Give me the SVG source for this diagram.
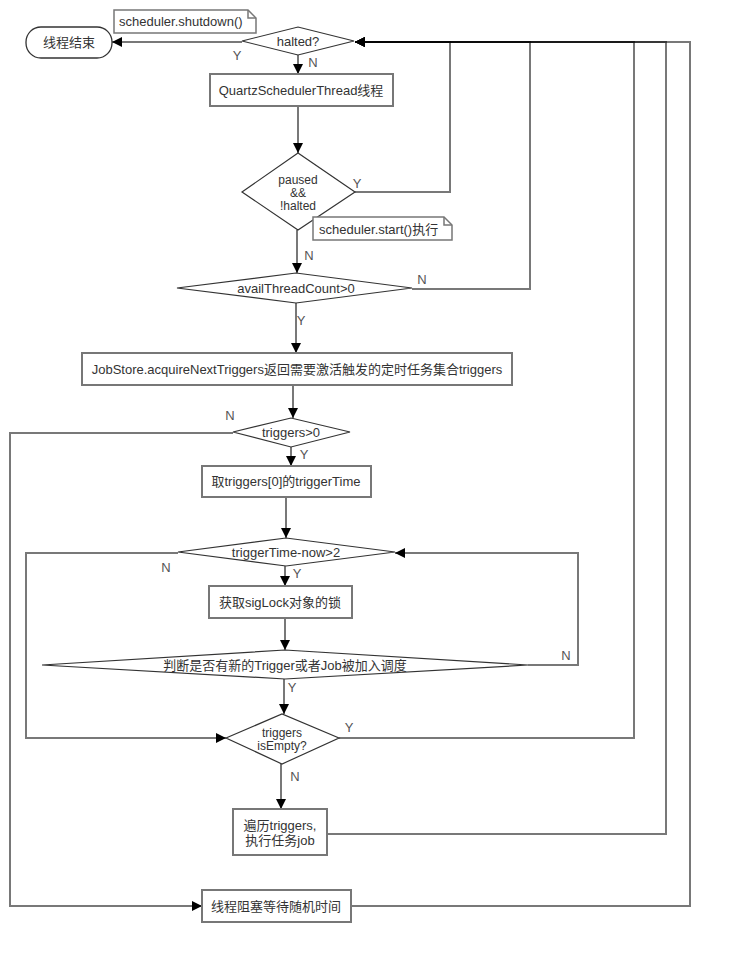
<svg xmlns="http://www.w3.org/2000/svg" width="731" height="962" viewBox="0 0 731 962">
<style>
text{font-family:"Liberation Sans","Noto Sans CJK SC",sans-serif;font-size:13px;fill:#333;text-anchor:middle}
.lbl{fill:#555}
.ml{font-size:12px}
.box{fill:#fff;stroke:#777;stroke-width:2}
.dia{fill:#fff;stroke:#333;stroke-width:1.2}
.term{fill:#fff;stroke:#333;stroke-width:1.3}
.note{fill:#fff;stroke:#777;stroke-width:1.5}
.fold{fill:none;stroke:#777;stroke-width:1.5}
.c{fill:none;stroke:#000;stroke-opacity:0.53;stroke-width:2;marker-end:url(#arr)}
.nt{text-anchor:start}
</style>
<defs>
<marker id="arr" viewBox="0 0 10 10" refX="10" refY="5" markerWidth="10" markerHeight="10" markerUnits="userSpaceOnUse" orient="auto"><path d="M0,0 L10,5 L0,10 Z" fill="#000"/></marker>
</defs>
<g id="connectors">
<path class="c" d="M242,42 L112,42"/>
<path class="c" d="M298,55 L298,74"/>
<path class="c" d="M298,106 L298,153"/>
<path class="c" d="M355,192 L450,192 L450,42 L355,42"/>
<path class="c" d="M297,230 L297,273"/>
<path class="c" d="M412,289 L530,289 L530,42 L355,42"/>
<path class="c" d="M296,303 L296,353"/>
<path class="c" d="M293,385 L293,418"/>
<path class="c" d="M233,433 L10,433 L10,906 L202,906"/>
<path class="c" d="M291,447 L291,466"/>
<path class="c" d="M286,497 L286,538"/>
<path class="c" d="M178,553 L26,553 L26,738 L226,738"/>
<path class="c" d="M285,566 L285,586"/>
<path class="c" d="M285,618 L285,650"/>
<path class="c" d="M528,665 L578,665 L578,553 L395,553"/>
<path class="c" d="M284,679 L284,714"/>
<path class="c" d="M339,738 L634,738 L634,42 L355,42"/>
<path class="c" d="M281,764 L281,809"/>
<path class="c" d="M327,834 L666,834 L666,42 L355,42"/>
<path class="c" d="M351,906 L690,906 L690,42 L355,42"/>
</g>
<g id="labels">
<text class="lbl" x="237" y="60">Y</text>
<text class="lbl" x="313" y="67">N</text>
<text class="lbl" x="357" y="188">Y</text>
<text class="lbl" x="309" y="260">N</text>
<text class="lbl" x="422" y="284">N</text>
<text class="lbl" x="301" y="325">Y</text>
<text class="lbl" x="230" y="420">N</text>
<text class="lbl" x="304" y="459">Y</text>
<text class="lbl" x="166" y="572">N</text>
<text class="lbl" x="297" y="578">Y</text>
<text class="lbl" x="566" y="660">N</text>
<text class="lbl" x="292" y="692">Y</text>
<text class="lbl" x="349" y="732">Y</text>
<text class="lbl" x="295" y="781">N</text>
</g>
<g id="end">
<rect class="term" x="26" y="27" width="86" height="31" rx="15" ry="15"/>
<text x="69" y="47">线程结束</text>
</g>
<g id="note-shutdown">
<path class="note" d="M114,10 L248,10 L256,18 L256,33 L114,33 Z"/>
<path class="fold" d="M248,10 L248,18 L256,18"/>
<text class="nt" x="119" y="26">scheduler.shutdown()</text>
</g>
<g id="halted">
<path class="dia" d="M242,41 L298,27 L354,41 L298,55 Z"/>
<text x="298" y="46">halted?</text>
</g>
<g id="thread">
<rect class="box" x="210" y="74" width="183" height="32"/>
<text x="301" y="95">QuartzSchedulerThread线程</text>
</g>
<g id="paused">
<path class="dia" d="M242,192 L298,153 L355,192 L298,230 Z"/>
<text class="ml" x="298" y="184">paused</text>
<text class="ml" x="298" y="197">&amp;&amp;</text>
<text class="ml" x="298" y="210">!halted</text>
</g>
<g id="note-start">
<path class="note" d="M313,217 L444,217 L452,225 L452,240 L313,240 Z"/>
<path class="fold" d="M444,217 L444,225 L452,225"/>
<text class="nt" x="319" y="234">scheduler.start()执行</text>
</g>
<g id="avail">
<path class="dia" d="M177,288 L296,273 L412,288 L296,303 Z"/>
<text x="296" y="293">availThreadCount&gt;0</text>
</g>
<g id="acquire">
<rect class="box" x="82" y="353" width="430" height="32"/>
<text x="297" y="374">JobStore.acquireNextTriggers返回需要激活触发的定时任务集合triggers</text>
</g>
<g id="triggers-gt0">
<path class="dia" d="M233,432 L291,418 L350,432 L291,447 Z"/>
<text x="291" y="437">triggers&gt;0</text>
</g>
<g id="take-time">
<rect class="box" x="202" y="466" width="169" height="31"/>
<text x="286" y="486">取triggers[0]的triggerTime</text>
</g>
<g id="time-diff">
<path class="dia" d="M178,552 L286,538 L395,552 L286,566 Z"/>
<text x="286" y="557">triggerTime-now&gt;2</text>
</g>
<g id="siglock">
<rect class="box" x="209" y="586" width="143" height="32"/>
<text x="280" y="607">获取sigLock对象的锁</text>
</g>
<g id="new-check">
<path class="dia" d="M42,665 L285,650 L528,665 L285,679 Z"/>
<text x="285" y="670">判断是否有新的Trigger或者Job被加入调度</text>
</g>
<g id="isempty">
<path class="dia" d="M226,738 L282,714 L339,738 L282,764 Z"/>
<text class="ml" x="282" y="737">triggers</text>
<text class="ml" x="282" y="750">isEmpty?</text>
</g>
<g id="exec">
<rect class="box" x="233" y="809" width="94" height="46"/>
<text x="280" y="830">遍历triggers,</text>
<text x="280" y="845">执行任务job</text>
</g>
<g id="wait">
<rect class="box" x="202" y="890" width="149" height="32"/>
<text x="276" y="911">线程阻塞等待随机时间</text>
</g>
</svg>
